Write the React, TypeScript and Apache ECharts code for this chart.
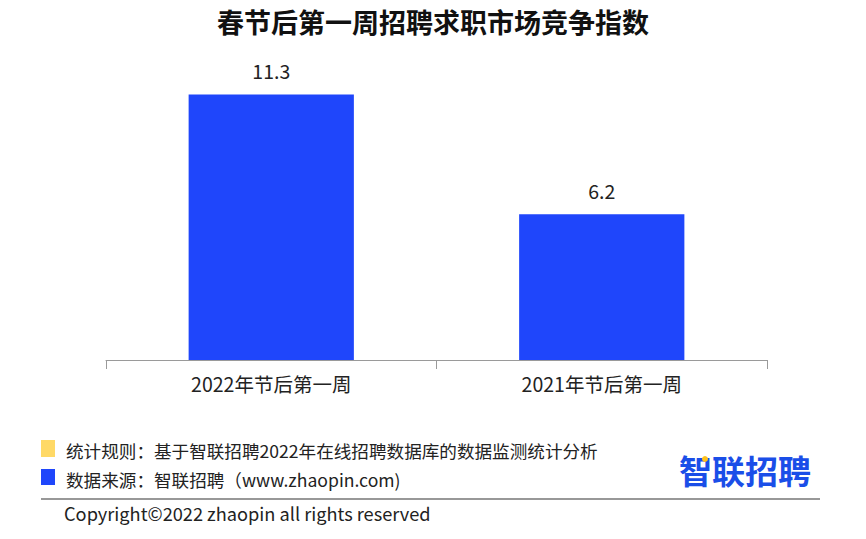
import React, { useEffect, useRef } from "react";
import * as echarts from "echarts";

const categories = ["2022年节后第一周", "2021年节后第一周"];
const values = [11.3, 6.2];
const titleText = "春节后第一周招聘求职市场竞争指数";
const ruleText = "统计规则：基于智联招聘2022年在线招聘数据库的数据监测统计分析";
const sourceText = "数据来源：智联招聘（www.zhaopin.com)";
const copyrightText = "Copyright©2022 zhaopin all rights reserved";
const logoText = "智联招聘";

const FONT = "'Noto Sans CJK SC', 'Noto Sans', sans-serif";

export default function App() {
  const ref = useRef<HTMLDivElement>(null);
  useEffect(() => {
    document.body.style.margin = "0";
    const chart = echarts.init(ref.current!, undefined, { renderer: "svg" });
    chart.setOption({
      animation: false,
      backgroundColor: "#ffffff",
      title: {
        text: titleText,
        left: "center",
        top: 3,
        textStyle: { fontFamily: FONT, fontSize: 27, fontWeight: "bold", color: "#111" },
      },
      grid: { left: 106, right: 99, top: 78, bottom: 179 },
      xAxis: {
        type: "category",
        data: categories,
        axisLine: { lineStyle: { color: "#9a9a9a", width: 1 } },
        axisTick: { show: true, length: 9, lineStyle: { color: "#9a9a9a" } },
        axisLabel: { fontFamily: FONT, fontSize: 19.5, color: "#222", margin: 14 },
      },
      yAxis: { type: "value", min: 0, max: 12, show: false, splitLine: { show: false } },
      series: [
        {
          type: "bar",
          data: values,
          barWidth: "50%",
          itemStyle: { color: "#1f46fb" },
          label: {
            show: true,
            position: "top",
            distance: 14,
            fontFamily: FONT,
            fontSize: 19.5,
            color: "#222",
          },
        },
      ],
      graphic: [
        { type: "rect", left: 41, top: 440, shape: { width: 14, height: 17 }, style: { fill: "#ffd966" } },
        { type: "rect", left: 41, top: 469, shape: { width: 14, height: 16 }, style: { fill: "#1f46fb" } },
        {
          type: "text", x: 66, y: 450,
          style: { text: ruleText, fontFamily: FONT, fontSize: 17.6, fill: "#222", verticalAlign: "middle" },
        },
        {
          type: "text", x: 66, y: 479,
          style: { text: sourceText, fontFamily: FONT, fontSize: 17.6, fill: "#222", verticalAlign: "middle" },
        },
        {
          type: "line", shape: { x1: 41, y1: 499, x2: 820, y2: 499 },
          style: { stroke: "#333", lineWidth: 1.2 },
        },
        {
          type: "text", x: 64, y: 513,
          style: { text: copyrightText, fontFamily: FONT, fontSize: 18.2, fill: "#222", verticalAlign: "middle" },
        },
        {
          type: "text", x: 679, y: 470,
          style: { text: logoText, fontFamily: FONT, fontSize: 33, fontWeight: "bold", fill: "#1a4ee8", verticalAlign: "middle" },
        },
        { type: "circle", shape: { cx: 705, cy: 459, r: 3 }, style: { fill: "#ffc21a" } },
      ],
    });
    return () => chart.dispose();
  }, []);
  return <div ref={ref} style={{ width: 866, height: 539 }} />;
}
